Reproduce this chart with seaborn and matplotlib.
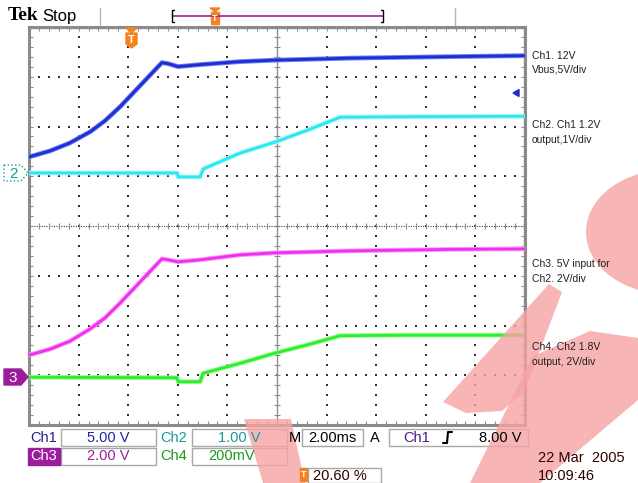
import matplotlib
matplotlib.use("Agg")
import matplotlib.pyplot as plt
import numpy as np
import pandas as pd
import seaborn as sns
from matplotlib.patches import Polygon, Rectangle, Circle

# ---------------- data ----------------
# time in ms relative to the trigger point
t_a = [-4.12, -3.27, -2.47, -1.66, -1.06, -0.45, 1.24, 1.48, 1.89, 2.78, 4.39, 5.80, 8.82, 12.85, 15.84]
ch1_v = [1.61, 2.22, 3.02, 4.13, 5.24, 6.65, 11.09, 10.99, 10.69, 10.89, 11.19, 11.34, 11.54, 11.69, 11.79]
ch3_v = [0.89, 1.13, 1.45, 1.94, 2.38, 2.98, 4.76, 4.72, 4.64, 4.72, 4.92, 5.00, 5.08, 5.14, 5.16]
t_b = [-4.12, 1.85, 1.89, 2.78, 2.90, 4.39, 5.80, 7.21, 8.42, 10.84, 15.84]
ch2_v = [0.0, 0.0, -0.08, -0.08, 0.08, 0.40, 0.62, 0.88, 1.12, 1.13, 1.14]
ch4_v = [0.0, -0.02, -0.18, -0.18, 0.16, 0.56, 0.97, 1.33, 1.67, 1.69, 1.69]

channels = ["Ch1", "Ch2", "Ch3", "Ch4"]
volts_per_div = [5.0, 1.0, 2.0, 2.0]
ground_div = [1.066, 1.066, -3.04, -3.04]
trace_colors = ["#1c2fd6", "#2ee8ef", "#f22ef2", "#2cf02c"]
halo_colors = ["#6f7cf0", "#a6f7fa", "#f8a0f8", "#a0f8a0"]

readout_row1 = ["Ch1", "5.00 V", "Ch2", "1.00 V", "M", "2.00ms", "A", "Ch1", "8.00 V"]
readout_row2 = ["Ch3", "2.00 V", "Ch4", "200mV"]
trigger_pos = "20.60 %"
date_lines = ["22 Mar  2005", "10:09:46"]
side_labels = [("Ch1. 12V", 56), ("Vbus,5V/div", 70), ("Ch2. Ch1 1.2V", 125), ("output,1V/div", 140),
               ("Ch3. 5V input for", 264), ("Ch2. 2V/div", 279), ("Ch4. Ch2 1.8V", 347), ("output, 2V/div", 362)]

# ---------------- figure ----------------
sns.set_style("white")
plt.rcParams["font.family"] = ["Liberation Sans", "DejaVu Sans"]
W, H = 638, 483
fig = plt.figure(figsize=(W / 100, H / 100), dpi=100)
fig.patch.set_facecolor("white")

L, R, T, B = 29, 525, 27, 425
ax = fig.add_axes([L / W, 1 - B / H, (R - L) / W, (B - T) / H])
ax.set_facecolor("white")
xmin, xmax = -4.12, 15.88
ax.set_xlim(xmin, xmax)
ax.set_ylim(-4, 4)
ax.set_xticks([]); ax.set_yticks([])
for s in ax.spines.values():
    s.set_color("#8a8a8a"); s.set_linewidth(2.2)

def div2t(d):
    return xmin + d * 2.0

# grid dots
gx, gy = [], []
for k in range(1, 10):
    if k == 5:
        continue
    for j in range(1, 40):
        gx.append(div2t(k)); gy.append(-4 + j * 0.2)
for k in range(-3, 4):
    if k == 0:
        continue
    for j in range(1, 50):
        gx.append(div2t(j * 0.2)); gy.append(k)
ax.scatter(gx, gy, s=1.4, marker="s", color="#303030", linewidths=0, zorder=1)

# centre crosshair
ax.axhline(0, color="#404040", lw=0.8, ls=(0, (1, 1.2)), zorder=1)
ax.axvline(div2t(5), color="#909090", lw=1.0, zorder=1)
px_x = 2.0 * 10 / (R - L)   # ms per pixel
px_y = 8.0 / (B - T)        # div per pixel
ticks_x = [div2t(j * 0.2) for j in range(1, 50)]
ticks_y = [-4 + j * 0.2 for j in range(1, 40)]
ax.vlines(ticks_x, -3 * px_y, 3 * px_y, color="#8a8a8a", lw=0.8, zorder=1)
ax.hlines(ticks_y, div2t(5) - 3 * px_x, div2t(5) + 3 * px_x, color="#8a8a8a", lw=0.8, zorder=1)
# frame ticks
ax.vlines(ticks_x, -4, -4 + 4 * px_y, color="#8a8a8a", lw=0.8)
ax.vlines(ticks_x, 4 - 4 * px_y, 4, color="#8a8a8a", lw=0.8)
ax.hlines(ticks_y, xmin, xmin + 4 * px_x, color="#8a8a8a", lw=0.8)
ax.hlines(ticks_y, xmax - 4 * px_x, xmax, color="#8a8a8a", lw=0.8)
fine_x = [div2t(j * 0.04) for j in range(1, 250)]
fine_y = [-4 + j * 0.04 for j in range(1, 200)]
ax.vlines(fine_x, 4 - 2 * px_y, 4, color="#9a9a9a", lw=0.5)
ax.hlines(fine_y, xmax - 2 * px_x, xmax, color="#9a9a9a", lw=0.5)

# traces
rows = []
for name, vpd, g, tt, vv in zip(channels, volts_per_div, ground_div,
                                [t_a, t_b, t_a, t_b], [ch1_v, ch2_v, ch3_v, ch4_v]):
    for t, v in zip(tt, vv):
        rows.append({"t": t, "div": v / vpd + g, "ch": name})
df = pd.DataFrame(rows)
sns.lineplot(data=df, x="t", y="div", hue="ch", palette=dict(zip(channels, halo_colors)),
             estimator=None, sort=False, lw=3.4, legend=False, ax=ax, zorder=3)
sns.lineplot(data=df, x="t", y="div", hue="ch", palette=dict(zip(channels, trace_colors)),
             estimator=None, sort=False, lw=2.0, legend=False, ax=ax, zorder=4)
ax.set_xlabel(""); ax.set_ylabel("")
ax.set_xlim(xmin, xmax); ax.set_ylim(-4, 4)

# ---------------- decorations in figure pixels ----------------
def P(x, y):
    return (x / W, 1 - y / H)

def poly(pts, **kw):
    fig.patches.append(Polygon([P(x, y) for x, y in pts], closed=True, transform=fig.transFigure, **kw))

def rect(x0, y0, x1, y1, **kw):
    fig.patches.append(Rectangle(P(x0, y1), (x1 - x0) / W, (y1 - y0) / H, transform=fig.transFigure, **kw))

def line(xs, ys, **kw):
    fig.add_artist(plt.Line2D([x / W for x in xs], [1 - y / H for y in ys], transform=fig.transFigure, **kw))

def txt(x, y, s, **kw):
    fig.text(x / W, 1 - y / H, s, **kw)

ORANGE = "#f5821f"
# header
txt(8, 16, "Tek", family="Liberation Serif", weight="bold", fontsize=14, va="center", color="black")
txt(42, 16, "Stop", fontsize=12, va="center", color="black")
line([100, 100], [8, 25], color="#b5b5b5", lw=1)
line([455, 455], [8, 25], color="#b5b5b5", lw=1)
line([173, 383], [16, 16], color="#a01ea0", lw=1.2)
line([174, 172, 172, 174], [10, 10, 22, 22], color="black", lw=1)
line([381, 383, 383, 381], [10, 10, 22, 22], color="black", lw=1)
poly([(210, 8), (220, 8), (215, 12)], color=ORANGE)
rect(211, 12, 219, 24, color=ORANGE)
txt(215, 18.5, "T", color="white", fontsize=6.5, weight="bold", ha="center", va="center")

# trigger marker in graticule
poly([(126, 28), (137, 28), (131.5, 33)], color=ORANGE, zorder=6)
poly([(126, 33), (137, 33), (137, 44), (131.5, 48), (126, 44)], color=ORANGE, zorder=6)
txt(131.5, 40, "T", color="white", fontsize=8, weight="bold", ha="center", va="center", zorder=7)

# channel reference markers
poly([(4, 165), (21, 165), (28, 173), (21, 181), (4, 181)], facecolor="white", edgecolor="#1a9a9a", lw=1, ls=":")
txt(13, 173.5, "2", color="#1a9a9a", fontsize=11, ha="center", va="center")
poly([(4, 369), (21, 369), (28, 377), (21, 385), (4, 385)], facecolor="#9c1c9c", edgecolor="#9c1c9c", lw=1)
txt(13, 377.5, "3", color="white", fontsize=11, ha="center", va="center")
# ch1 trigger-level arrow
poly([(513, 93), (519, 89.5), (519, 96.5)], color="#1c2fd6")

# readout boxes
BOX = dict(facecolor="white", edgecolor="#a8a8a8", lw=1)
for (x0, x1) in [(61, 156), (192, 287), (302, 363), (389, 528)]:
    rect(x0, 429, x1, 446, **BOX)
for (x0, x1) in [(61, 156), (192, 287)]:
    rect(x0, 448, x1, 465, **BOX)
rect(308, 468, 381, 483, **BOX)
rect(28, 448, 60, 465, color="#9c1c9c")

# translucent watermark shapes
PINK = dict(facecolor="#f7a3a3", edgecolor="none", alpha=0.8, zorder=2)
poly([(244, 419), (291, 419), (305, 483), (263, 483)], **PINK)
fig.patches.append(Circle(P(668, 232), 82 / W, transform=fig.transFigure, **PINK))
poly([(549, 284), (562, 292), (524, 392), (502, 411), (466, 413), (443, 402)], **PINK)
poly([(470, 483), (540, 483), (638, 400), (638, 338), (590, 331), (533, 356)], **PINK)

# side labels
for s, y in side_labels:
    txt(532, y, s, fontsize=7.5, va="center", color="#202020", zorder=5)

FS = 10.5
r1y, r2y = 437.5, 456.5
TK = dict(fontsize=FS, ha="center", va="center", zorder=5)
txt(44, r1y, readout_row1[0], color="#22228a", **TK)
txt(108, r1y, readout_row1[1], color="#2222a8", **TK)
txt(174, r1y, readout_row1[2], color="#1a9a9a", **TK)
txt(239, r1y, readout_row1[3], color="#1a9a9a", **TK)
txt(295, r1y, readout_row1[4], color="black", **TK)
txt(332, r1y, readout_row1[5], color="black", **TK)
txt(375, r1y, readout_row1[6], color="black", **TK)
txt(417, r1y, readout_row1[7], color="#4a1a8a", **TK)
line([443, 447, 448, 452], [443, 443, 432, 432], color="black", lw=1.5, zorder=5)
txt(500, r1y, readout_row1[8], color="black", **TK)
txt(44, r2y, readout_row2[0], color="white", **TK)
txt(108, r2y, readout_row2[1], color="#9c1c9c", **TK)
txt(174, r2y, readout_row2[2], color="#1a9a1a", **TK)
txt(232, r2y, readout_row2[3], color="#1a9a1a", **TK)
rect(300, 468, 307, 481, color=ORANGE, zorder=5)
txt(303.5, 474.5, "T", color="white", fontsize=6.5, weight="bold", ha="center", va="center", zorder=6)
txt(340, 475.5, trigger_pos, color="#300000", **TK)
txt(538, 458, date_lines[0], color="#300000", fontsize=FS, va="center", zorder=5)
txt(538, 476.5, date_lines[1], color="#300000", fontsize=FS, va="center", zorder=5)

fig.savefig("out.png", dpi=100)
